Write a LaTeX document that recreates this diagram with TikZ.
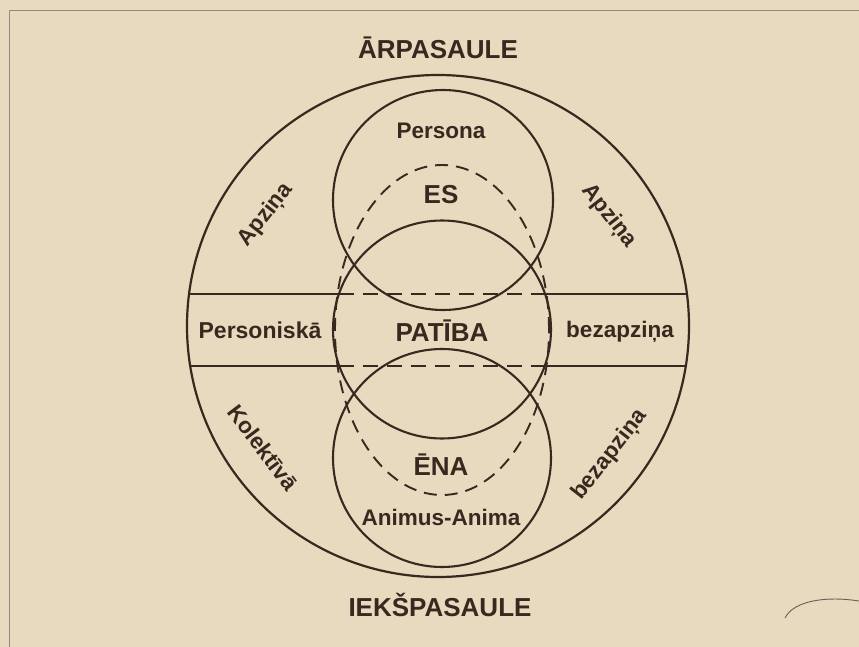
\documentclass[tikz,border=0pt]{standalone}
\usepackage{fontspec}
\setmainfont{Liberation Sans}
\usetikzlibrary{calc}
\definecolor{paper}{RGB}{232,218,190}
\definecolor{ink}{RGB}{56,40,32}
\begin{document}
\begin{tikzpicture}[x=1pt,y=-1pt,line join=round,
  ring/.style={draw=ink,line width=2.1pt},
  dashring/.style={draw=ink,line width=1.9pt,dash pattern=on 13pt off 8pt},
  band/.style={draw=ink,line width=1.8pt},
  bandDash/.style={draw=ink,line width=1.8pt,dash pattern=on 15pt off 9pt},
  lbl/.style={text=ink,font=\fontsize{22.5}{24}\selectfont\bfseries,inner sep=0pt},
  midlbl/.style={text=ink,font=\fontsize{23}{25}\selectfont\bfseries,inner sep=0pt},
  biglbl/.style={text=ink,font=\fontsize{26}{28}\selectfont\bfseries,inner sep=0pt}]
\fill[paper] (0,0) rectangle (859,647);
\useasboundingbox (0,0) rectangle (859,647);
% frame
\draw[draw=ink!55,line width=1pt] (9,647) -- (9,11) -- (859,11);
% circles
\coordinate (O) at (438,326);
\coordinate (A) at (443,200);
\coordinate (B) at (442,329.5);
\coordinate (C) at (442,458);
\coordinate (D) at (442,330);
\draw[ring,line width=2.2pt] (O) circle[radius=251pt];
\draw[ring] (A) circle[radius=110pt];
\draw[ring] (B) circle[radius=109pt];
\draw[ring] (C) circle[radius=109pt];
\draw[dashring] (D) ellipse[x radius=107pt,y radius=165pt];
% band lines
\coordinate (l1) at (189,294); \coordinate (bl1) at (339,294);
\coordinate (br1) at (545,294); \coordinate (r1) at (687,294);
\coordinate (l2) at (190,366); \coordinate (bl2) at (339,366);
\coordinate (br2) at (545,366); \coordinate (r2) at (686,366);
\draw[band] (l1) -- (bl1);
\draw[band] (br1) -- (r1);
\draw[bandDash] (bl1) -- (br1);
\draw[band] (l2) -- (bl2);
\draw[band] (br2) -- (r2);
\draw[bandDash] (bl2) -- (br2);
% labels
\node[biglbl] (arp) at (438,48) {ĀRPASAULE};
\node[biglbl] (iek) at (440,605) {IEKŠPASAULE};
\node[lbl] (pers) at (441,131) {Persona};
\node[biglbl] (es) at (441,195) {ES};
\node[midlbl] (persk) at (260,330) {Personiskā};
\node[biglbl] (pat) at (442,331) {PATĪBA};
\node[lbl] (bez1) at (620,332) {bezapziņa};
\node[biglbl] (ena) at (441,465) {ĒNA};
\node[lbl] (anim) at (441,517) {Animus-Anima};
\node[lbl,rotate=52] (apzL) at (266,215) {Apziņa};
\node[lbl,rotate=-52] (apzR) at (609,216) {Apziņa};
\node[lbl,rotate=-53] (kol) at (263,448) {Kolektīvā};
\node[lbl,rotate=52] (bez2) at (610,455) {bezapziņa};
% pencil mark
\coordinate (m1) at (785,618);
\coordinate (m2) at (859,601);
\draw[ink!75,line width=0.9pt] (m1) .. controls (794,600) and (828,596) .. (m2);
\end{tikzpicture}
\end{document}
